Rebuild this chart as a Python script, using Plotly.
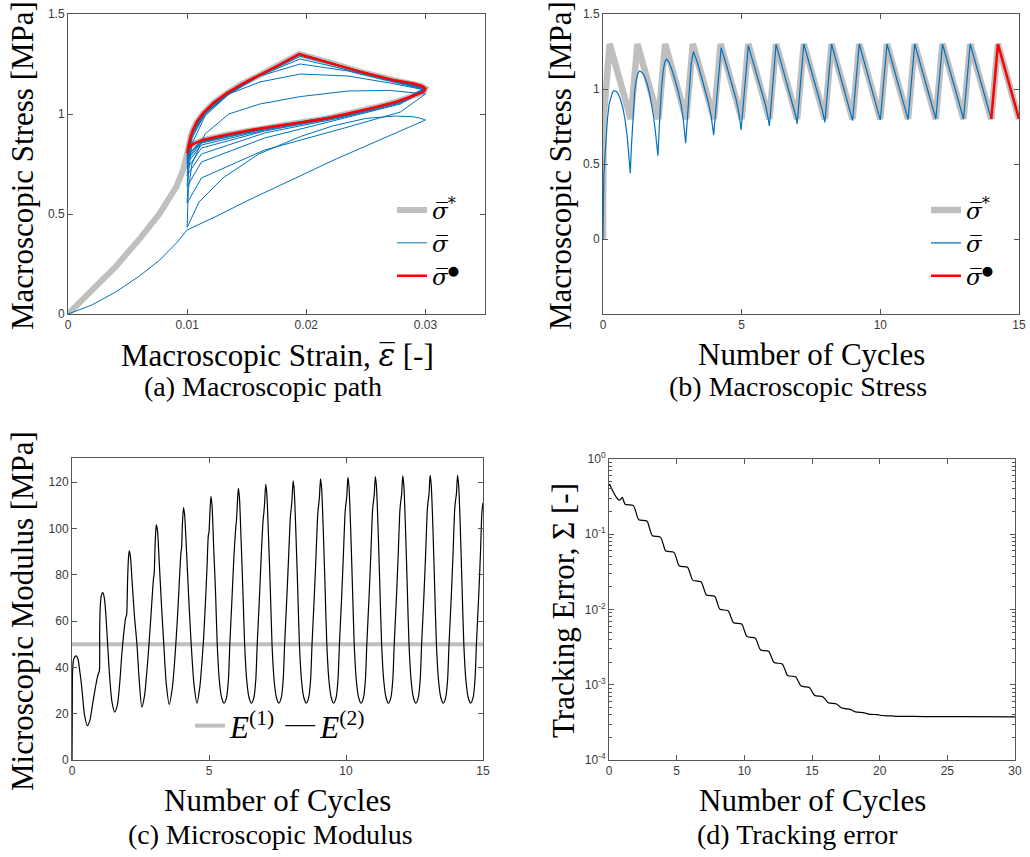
import plotly.graph_objects as go

# ---------------- (a) Macroscopic path ----------------
A_star_strain = [0, 0.002, 0.004, 0.006, 0.0077, 0.0091, 0.00966, 0.01,
                 0.0101, 0.0103, 0.01048, 0.0108, 0.01133, 0.0122, 0.0133, 0.0146, 0.0161, 0.0177, 0.0194,
                 0.0217, 0.0245, 0.0273, 0.029, 0.0297, 0.03,
                 0.0299, 0.0294, 0.0287, 0.0275, 0.0259, 0.024, 0.0217, 0.0189, 0.0161, 0.0133, 0.0113, 0.0105, 0.0101, 0.01]
A_star_stress = [0, 0.115, 0.237, 0.375, 0.503, 0.637, 0.72, 0.803,
                 0.84, 0.89, 0.92, 0.96, 1.003, 1.055, 1.103, 1.15, 1.195, 1.245, 1.3,
                 1.262, 1.212, 1.17, 1.153, 1.14, 1.128,
                 1.115, 1.1, 1.085, 1.06, 1.035, 1.008, 0.978, 0.953, 0.928, 0.897, 0.87, 0.85, 0.83, 0.803]

A_last_strain = [0.01, 0.0101, 0.0103, 0.01048, 0.0108, 0.01133, 0.0122, 0.0133, 0.0146, 0.0161, 0.0177, 0.0194,
                 0.0217, 0.0245, 0.0273, 0.029, 0.0297, 0.03,
                 0.0299, 0.0294, 0.0287, 0.0275, 0.0259, 0.024, 0.0217, 0.0189, 0.0161, 0.0133, 0.0113, 0.0105, 0.0101, 0.01]
A_last_stress = [0.803, 0.84, 0.89, 0.92, 0.96, 1.003, 1.055, 1.103, 1.15, 1.195, 1.245, 1.3,
                 1.262, 1.212, 1.17, 1.153, 1.14, 1.128,
                 1.115, 1.1, 1.085, 1.06, 1.035, 1.008, 0.978, 0.953, 0.928, 0.897, 0.87, 0.85, 0.83, 0.803]

A_blue_strain = (
    [0, 0.002, 0.004, 0.006, 0.0077, 0.0091, 0.01] +
    [0.0125, 0.015, 0.0175, 0.02, 0.0225, 0.025, 0.0275, 0.03] +
    [0.0295, 0.029, 0.0275, 0.025, 0.0222, 0.0195, 0.016, 0.013, 0.011, 0.01] +
    [0.0101, 0.0104, 0.0115, 0.0135, 0.0161, 0.0195, 0.0235, 0.027, 0.03, 0.0279, 0.0232, 0.0165, 0.0112, 0.01] +
    [0.0101, 0.0104, 0.0115, 0.0135, 0.0161, 0.0195, 0.0235, 0.027, 0.03, 0.0279, 0.0232, 0.0165, 0.0112, 0.01] +
    [0.0101, 0.0104, 0.0115, 0.0135, 0.0161, 0.0195, 0.0235, 0.027, 0.03, 0.0279, 0.0232, 0.0165, 0.0112, 0.01] +
    [0.0101, 0.0104, 0.0115, 0.0135, 0.0161, 0.0195, 0.0235, 0.027, 0.03, 0.0279, 0.0232, 0.0165, 0.0112, 0.01] +
    [0.0101, 0.0104, 0.0115, 0.0135, 0.0161, 0.0195, 0.0235, 0.027, 0.03, 0.0279, 0.0232, 0.0165, 0.0112, 0.01] +
    [0.0101, 0.0104, 0.0115, 0.0135, 0.0161, 0.0195, 0.0235, 0.027, 0.03, 0.0279, 0.0232, 0.0165, 0.0112, 0.01] +
    [0.0101, 0.0104, 0.0115, 0.0135, 0.0161, 0.0195, 0.0235, 0.027, 0.03, 0.0279, 0.0232, 0.0165, 0.0112, 0.01] +
    [0.0101, 0.0104, 0.0115, 0.0135, 0.0161, 0.0195, 0.0235, 0.027, 0.03, 0.0279, 0.0232, 0.0165, 0.0112, 0.01] +
    [0.0101, 0.0104, 0.0115, 0.0135, 0.0161, 0.0195, 0.0235, 0.027, 0.03, 0.0279, 0.0232, 0.0165, 0.0112, 0.01]
)
A_blue_stress = (
    [0, 0.045, 0.11, 0.19, 0.27, 0.355, 0.42] +
    [0.49, 0.565, 0.635, 0.705, 0.775, 0.84, 0.905, 0.97] +
    [0.98, 0.986, 0.99, 0.978, 0.94, 0.887, 0.8, 0.68, 0.56, 0.433] +
    [0.62, 0.75, 0.9, 1.0, 1.05, 1.087, 1.115, 1.118, 1.10, 1.01, 0.93, 0.82, 0.68, 0.555] +
    [0.7, 0.85, 0.99, 1.1, 1.16, 1.2, 1.19, 1.155, 1.12, 1.05, 0.98, 0.88, 0.76, 0.638] +
    [0.75, 0.88, 1.0, 1.1, 1.19, 1.25, 1.215, 1.165, 1.122, 1.055, 0.985, 0.905, 0.8, 0.693] +
    [0.78, 0.89, 1.0, 1.1, 1.193, 1.275, 1.22, 1.168, 1.125, 1.06, 0.99, 0.915, 0.83, 0.727] +
    [0.8, 0.9, 1.005, 1.105, 1.192, 1.289, 1.226, 1.173, 1.127, 1.06, 0.99, 0.92, 0.845, 0.753] +
    [0.81, 0.905, 1.01, 1.108, 1.194, 1.297, 1.228, 1.174, 1.128, 1.062, 0.994, 0.925, 0.855, 0.767] +
    [0.82, 0.908, 1.012, 1.11, 1.195, 1.3, 1.23, 1.175, 1.128, 1.064, 0.996, 0.928, 0.86, 0.778] +
    [0.825, 0.908, 1.012, 1.11, 1.195, 1.3, 1.23, 1.175, 1.128, 1.065, 0.997, 0.93, 0.864, 0.789] +
    [0.83, 0.908, 1.012, 1.11, 1.195, 1.3, 1.23, 1.175, 1.128, 1.065, 0.998, 0.931, 0.866, 0.793]
)

# ---------------- (b) Macroscopic Stress ----------------
B_star_t = [0, 0.02, 0.24, 1.0, 1.24, 2.0, 2.24, 3.0, 3.24, 4.0, 4.24, 5.0, 5.24, 6.0, 6.24, 7.0, 7.24,
            8.0, 8.24, 9.0, 9.24, 10.0, 10.24, 11.0, 11.24, 12.0, 12.24, 13.0, 13.24, 14.0, 14.24, 15.0]
B_star = [0, 0.8, 1.3, 0.8, 1.3, 0.8, 1.3, 0.8, 1.3, 0.8, 1.3, 0.8, 1.3, 0.8, 1.3, 0.8, 1.3,
          0.8, 1.3, 0.8, 1.3, 0.8, 1.3, 0.8, 1.3, 0.8, 1.3, 0.8, 1.3, 0.8, 1.3, 0.8]

B_t = [0, 0.01, 0.03, 0.06, 0.1, 0.16, 0.22, 0.28, 0.34, 0.4, 0.47, 0.54, 0.63, 0.72, 0.8, 0.88, 0.94, 0.985,
       1.02, 1.08, 1.14, 1.2, 1.26, 1.32, 1.41, 1.5, 1.6, 1.68, 1.75, 1.82, 1.89, 1.94, 1.98,
       2.03, 2.1, 2.17, 2.23, 2.29, 2.38, 2.5, 2.62, 2.72, 2.82, 2.9, 2.98,
       3.08, 3.18, 3.26, 3.4, 3.55, 3.7, 3.8, 3.9, 3.99,
       4.13, 4.26, 4.45, 4.65, 4.8, 4.9, 4.98,
       5.24, 5.6, 5.85, 5.93, 6.0,
       6.24, 6.88, 6.95, 7.0,
       7.24, 7.9, 8.0, 8.24, 8.92, 9.0, 9.24, 9.93, 10.0,
       10.24, 11.0, 11.24, 12.0, 12.24, 13.0, 13.24, 14.0]
B_sigma = [0.0, 0.25, 0.42, 0.515, 0.65, 0.8, 0.9, 0.95, 0.978, 0.989, 0.985, 0.971, 0.93, 0.871, 0.79, 0.671, 0.56, 0.438,
           0.6, 0.8, 0.98, 1.06, 1.105, 1.12, 1.11, 1.085, 1.03, 0.97, 0.905, 0.82, 0.715, 0.64, 0.555,
           0.75, 0.98, 1.12, 1.18, 1.2, 1.18, 1.12, 1.05, 0.98, 0.89, 0.79, 0.638,
           0.9, 1.17, 1.249, 1.18, 1.08, 0.98, 0.91, 0.82, 0.693,
           1.0, 1.275, 1.16, 1.03, 0.93, 0.84, 0.727,
           1.289, 1.06, 0.9, 0.83, 0.753,
           1.298, 0.88, 0.82, 0.767,
           1.3, 0.865, 0.778, 1.3, 0.853, 0.789, 1.3, 0.846, 0.793,
           1.3, 0.797, 1.3, 0.8, 1.3, 0.8, 1.3, 0.8]

B_last_t = [14.0, 14.24, 15.0]
B_last = [0.8, 1.3, 0.8]

# ---------------- (c) Microscopic Modulus ----------------
C_E1_t = [0, 15]
C_E1 = [50, 50]

C_t = [0, 0.01, 0.02, 0.06, 0.15, 0.22, 0.27, 0.36, 0.45, 0.56, 0.65, 0.75, 0.85, 0.93, 0.97,
       1.0, 1.01, 1.03, 1.07, 1.12, 1.18, 1.24, 1.3, 1.38, 1.46, 1.56, 1.66, 1.74, 1.82, 1.9, 1.96, 1.985,
       2.0, 2.03, 2.06, 2.09, 2.13, 2.2, 2.28, 2.37, 2.45, 2.55, 2.65, 2.73, 2.81, 2.88, 2.94, 2.975,
       3.0, 3.03, 3.06, 3.08, 3.12, 3.19, 3.27, 3.35, 3.44, 3.55, 3.66, 3.73, 3.8, 3.87, 3.93, 3.975,
       4.0, 4.03, 4.07, 4.11, 4.18, 4.26, 4.35, 4.45, 4.56, 4.67, 4.74, 4.8, 4.87, 4.93, 4.975,
       5.0, 5.03, 5.07, 5.11, 5.17, 5.24, 5.3, 5.38, 5.46, 5.55, 5.64, 5.71, 5.76, 5.84, 5.91, 5.96, 5.985,
       6.0, 6.03, 6.07, 6.11, 6.17, 6.24, 6.3, 6.38, 6.46, 6.55, 6.64, 6.71, 6.76, 6.84, 6.91, 6.96, 6.985,
       7.0, 7.03, 7.07, 7.11, 7.17, 7.24, 7.3, 7.38, 7.46, 7.55, 7.64, 7.71, 7.76, 7.84, 7.91, 7.96, 7.985,
       8.0, 8.03, 8.07, 8.11, 8.17, 8.24, 8.3, 8.38, 8.46, 8.55, 8.64, 8.71, 8.76, 8.84, 8.91, 8.96, 8.985,
       9.0, 9.03, 9.07, 9.11, 9.17, 9.24, 9.3, 9.38, 9.46, 9.55, 9.64, 9.71, 9.76, 9.84, 9.91, 9.96, 9.985,
       10.0, 10.03, 10.07, 10.11, 10.17, 10.24, 10.3, 10.38, 10.46, 10.55, 10.64, 10.71, 10.76, 10.84, 10.91, 10.96, 10.985,
       11.0, 11.03, 11.07, 11.11, 11.17, 11.24, 11.3, 11.38, 11.46, 11.55, 11.64, 11.71, 11.76, 11.84, 11.91, 11.96, 11.985,
       12.0, 12.03, 12.07, 12.11, 12.17, 12.24, 12.3, 12.38, 12.46, 12.55, 12.64, 12.71, 12.76, 12.84, 12.91, 12.96, 12.985,
       13.0, 13.03, 13.07, 13.11, 13.17, 13.24, 13.3, 13.38, 13.46, 13.55, 13.64, 13.71, 13.76, 13.84, 13.91, 13.96, 13.985,
       14.0, 14.03, 14.07, 14.11, 14.17, 14.24, 14.3, 14.38, 14.46, 14.55, 14.64, 14.71, 14.76, 14.84, 14.91, 14.96, 15.0]
C_E2 = [0, 20, 38, 43.5, 45, 43.5, 39.6, 31, 20, 14.8, 17, 24, 31, 36, 37.5,
        38.5, 55, 66, 71, 72.4, 70, 62, 50, 35, 25, 20.7, 24, 33, 46, 56, 61.5, 62.2,
        63.5, 78, 87, 90.3, 88, 76, 62, 50, 35, 22.8, 28, 38, 50, 62, 73, 78.5,
        80.5, 92, 99.5, 101.5, 99, 84, 66, 50, 33, 24, 31, 40, 52, 66, 80, 89.4,
        91.5, 102, 109, 106, 90, 70, 50, 33, 24.6, 32, 42, 52, 68, 84, 96.9,
        98.4, 106, 113.8, 110, 92, 72, 50, 34, 27, 24.5, 27, 35, 50, 70, 88, 97.5, 101.5,
        103, 109.5, 117.3, 113.5, 95.5, 72, 50, 34, 27, 24.5, 27, 35, 50, 70, 89, 101, 105,
        106.5, 111, 119, 115, 97, 73, 50, 34, 27, 24.5, 27, 35, 50, 70, 89, 103, 107,
        108.5, 112.5, 120.5, 116.5, 98.5, 73, 50, 34, 27, 24.5, 27, 35, 50, 70, 89.5, 104.3, 108.3,
        109.8, 113.4, 121.4, 117.4, 99.4, 73, 50, 34, 27, 24.5, 27, 35, 50, 70, 90, 105.4, 109.4,
        110.9, 114, 122, 118, 100, 73, 50, 34, 27, 24.5, 27, 35, 50, 70, 90, 106, 110,
        111.5, 114.4, 122.4, 118.4, 100.4, 73, 50, 34, 27, 24.5, 27, 35, 50, 70, 90, 106.3, 110.3,
        111.8, 114.7, 122.7, 118.7, 100.7, 73, 50, 34, 27, 24.5, 27, 35, 50, 70, 90, 106.5, 110.5,
        112, 114.9, 122.9, 118.9, 100.9, 73, 50, 34, 27, 24.5, 27, 35, 50, 70, 90, 106.7, 110.7,
        112.2, 114.9, 122.9, 118.9, 100.9, 73, 50, 34, 27, 24.5, 27, 35, 50, 70, 90, 107, 111]

# ---------------- (d) Tracking error ----------------
D_t = [0, 0.05, 0.15, 0.3, 0.45, 0.6, 0.72, 0.85, 0.98, 1.05,
       1.2, 1.8, 2.0, 2.2, 2.8, 3.0, 3.2, 3.8, 4.0, 4.2, 4.8, 5.0, 5.2, 5.8, 6.0,
       6.2, 6.8, 7.0, 7.2, 7.8, 8.0, 8.2, 8.8, 9.0, 9.2, 9.8, 10.0, 10.2, 10.8, 11.0,
       11.2, 11.8, 12.0, 12.2, 12.8, 13.0, 13.2, 13.8, 14.0, 14.2, 14.8, 15.0,
       15.2, 15.8, 16.0, 16.2, 16.8, 17.0, 17.2, 17.8, 18.0, 18.2, 18.8, 19.0,
       19.2, 19.8, 20.0, 20.2, 20.8, 21.0, 21.5, 22.5, 24, 26, 30]
D_err = [0.44, 0.46, 0.42, 0.37, 0.33, 0.3, 0.285, 0.29, 0.31, 0.29,
         0.25, 0.24, 0.194, 0.156, 0.15, 0.12, 0.0954, 0.0916, 0.074, 0.0598, 0.0574, 0.0466, 0.0378, 0.0364, 0.0298,
         0.0244, 0.0234, 0.0191, 0.0156, 0.015, 0.0123, 0.01005, 0.00965, 0.00803, 0.00668, 0.00642, 0.00529, 0.00436, 0.00418, 0.00348,
         0.0029, 0.00278, 0.00234, 0.00197, 0.00189, 0.00159, 0.00133, 0.00127, 0.0011, 0.00096, 0.00092, 0.000816,
         0.000722, 0.000694, 0.000633, 0.000577, 0.000555, 0.000522, 0.00049, 0.000471, 0.000455, 0.000437, 0.000425, 0.000417,
         0.000408, 0.0004, 0.000396, 0.00039, 0.000386, 0.000384, 0.000381, 0.000379, 0.000377, 0.000376, 0.000375]

# ---------------- styling ----------------
W, H = 1030, 857
GRAY = "#bfbfbf"
BLUE = "#0072BD"
RED = "#ff0000"
SERIF = "Liberation Serif"
SANS = "Liberation Sans"
LEGFONT = "DejaVu Serif"


def fx(x):
    return x / W


def fy(y):
    return 1 - y / H


SIG = "<i>σ\u0305</i>"
DOT = "<sup><span style='font-size:13px'>●</span></sup>"

fig = go.Figure()

# (a)
fig.add_trace(go.Scatter(x=A_star_strain, y=A_star_stress, mode="lines", line=dict(color=GRAY, width=6),
                         name=SIG + "<sup>*</sup>", xaxis="x", yaxis="y", legend="legend"))
fig.add_trace(go.Scatter(x=A_blue_strain, y=A_blue_stress, mode="lines", line=dict(color=BLUE, width=1),
                         name=SIG, xaxis="x", yaxis="y", legend="legend"))
fig.add_trace(go.Scatter(x=A_last_strain, y=A_last_stress, mode="lines", line=dict(color=RED, width=2.5),
                         name=SIG + DOT, xaxis="x", yaxis="y", legend="legend"))
# (b)
fig.add_trace(go.Scatter(x=B_star_t, y=B_star, mode="lines", line=dict(color=GRAY, width=6.5),
                         name=SIG + "<sup>*</sup>", xaxis="x2", yaxis="y2", legend="legend2"))
fig.add_trace(go.Scatter(x=B_t, y=B_sigma, mode="lines", line=dict(color=BLUE, width=1.2),
                         name=SIG, xaxis="x2", yaxis="y2", legend="legend2"))
fig.add_trace(go.Scatter(x=B_last_t, y=B_last, mode="lines", line=dict(color=RED, width=2.5),
                         name=SIG + DOT, xaxis="x2", yaxis="y2", legend="legend2"))
# (c)
fig.add_trace(go.Scatter(x=C_E1_t, y=C_E1, mode="lines", line=dict(color=GRAY, width=4),
                         name="<i>E</i><sup>(1)</sup>", xaxis="x3", yaxis="y3", legend="legend3"))
fig.add_trace(go.Scatter(x=C_t, y=C_E2, mode="lines", line=dict(color="black", width=1.2, shape="spline", smoothing=0.7),
                         name="<i>E</i><sup>(2)</sup>", xaxis="x3", yaxis="y3", legend="legend3"))
# (d)
fig.add_trace(go.Scatter(x=D_t, y=D_err, mode="lines", line=dict(color="black", width=1.2, shape="spline", smoothing=0.8),
                         showlegend=False, xaxis="x4", yaxis="y4"))

axis_common = dict(showline=True, linecolor="#555555", linewidth=1, mirror="ticks", ticks="inside",
                   ticklen=5, tickcolor="#555555", showgrid=False, zeroline=False,
                   ticklabeloverflow="allow", automargin=False,
                   tickfont=dict(family=SANS, size=12, color="#3a3a3a"))

fig.update_layout(
    width=W, height=H, margin=dict(l=0, r=0, t=0, b=0, pad=0, autoexpand=False),
    paper_bgcolor="white", plot_bgcolor="white",
    xaxis=dict(domain=[fx(68), fx(485)], range=[0, 0.035], anchor="y",
               tickvals=[0, 0.01, 0.02, 0.03], ticktext=["0", "0.01", "0.02", "0.03"], **axis_common),
    yaxis=dict(domain=[fy(314), fy(14)], range=[0, 1.5], anchor="x",
               tickvals=[0, 0.5, 1, 1.5], ticktext=["0", "0.5", "1", "1.5"], **axis_common),
    xaxis2=dict(domain=[fx(603), fx(1019)], range=[0, 15], anchor="y2",
                tickvals=[0, 5, 10, 15], **axis_common),
    yaxis2=dict(domain=[fy(314), fy(14)], range=[-0.5, 1.5], anchor="x2",
                tickvals=[0, 0.5, 1, 1.5], ticktext=["0", "0.5", "1", "1.5"], **axis_common),
    xaxis3=dict(domain=[fx(72), fx(483)], range=[0, 15], anchor="y3",
                tickvals=[0, 5, 10, 15], **axis_common),
    yaxis3=dict(domain=[fy(760), fy(458)], range=[0, 130.4], anchor="x3",
                tickvals=[0, 20, 40, 60, 80, 100, 120], **axis_common),
    xaxis4=dict(domain=[fx(609), fx(1015)], range=[0, 30], anchor="y4",
                tickvals=[0, 5, 10, 15, 20, 25, 30], **axis_common),
    yaxis4=dict(domain=[fy(760), fy(459)], type="log", range=[-4, 0], anchor="x4",
                tickvals=[1e-4, 1e-3, 1e-2, 1e-1, 1],
                ticktext=["10<sup>-4</sup>", "10<sup>-3</sup>", "10<sup>-2</sup>", "10<sup>-1</sup>", "10<sup>0</sup>"],
                minor=dict(ticks="inside", ticklen=3, tickcolor="#555555", tickmode="array",
                           tickvals=[m * 10 ** e for e in (-4, -3, -2, -1) for m in range(2, 10)]),
                **axis_common),
    legend=dict(x=fx(392), y=fy(243), xanchor="left", yanchor="middle", bgcolor="rgba(0,0,0,0)",
                font=dict(family=LEGFONT, size=23, color="black"), itemwidth=30, tracegroupgap=0),
    legend2=dict(x=fx(926), y=fy(243), xanchor="left", yanchor="middle", bgcolor="rgba(0,0,0,0)",
                 font=dict(family=LEGFONT, size=23, color="black"), itemwidth=30, tracegroupgap=0),
    legend3=dict(x=fx(190), y=fy(726), xanchor="left", yanchor="middle", orientation="h",
                 bgcolor="rgba(0,0,0,0)", font=dict(family=SERIF, size=31, color="black"), itemwidth=30),
)

TITLE = dict(family=SERIF, size=31, color="black")
CAP = dict(family=SERIF, size=28, color="black")
ann = [
    # y titles
    dict(text="Macroscopic Stress [MPa]", x=fx(22), y=fy(166), textangle=-90, font=TITLE),
    dict(text="Macroscopic Stress [MPa]", x=fx(560), y=fy(166), textangle=-90, font=TITLE),
    dict(text="Microscopic Modulus [MPa]", x=fx(22), y=fy(611), textangle=-90, font=TITLE),
    dict(text="Tracking Error, Σ [-]", x=fx(563), y=fy(611), textangle=-90, font=TITLE),
    # x titles
    dict(text="Macroscopic Strain, <span style='font-family:DejaVu Serif'><i>ε\u0305</i></span> [-]",
         x=fx(277), y=fy(355), font=TITLE),
    dict(text="Number of Cycles", x=fx(811), y=fy(355), font=TITLE),
    dict(text="Number of Cycles", x=fx(277), y=fy(800), font=TITLE),
    dict(text="Number of Cycles", x=fx(812), y=fy(800), font=TITLE),
    # captions
    dict(text="(a) Macroscopic path", x=fx(263), y=fy(386), font=CAP),
    dict(text="(b) Macroscopic Stress", x=fx(798), y=fy(386), font=CAP),
    dict(text="(c) Microscopic Modulus", x=fx(270), y=fy(834), font=CAP),
    dict(text="(d) Tracking error", x=fx(797), y=fy(834), font=CAP),
]
for a in ann:
    a.update(xref="paper", yref="paper", showarrow=False, xanchor="center", yanchor="middle")
fig.update_layout(annotations=ann)

fig.write_html("out.html", config={"displayModeBar": False},
               post_script="document.body.style.margin='0px';")
